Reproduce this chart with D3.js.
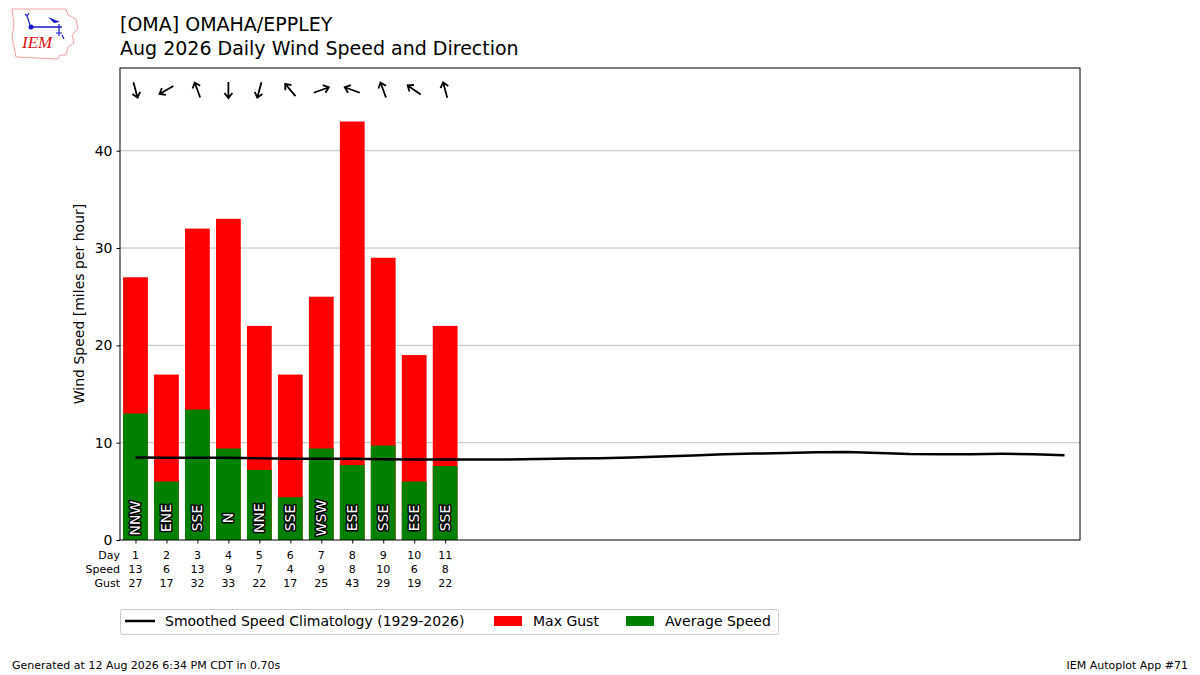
<!DOCTYPE html>
<html>
<head>
<meta charset="utf-8">
<script src="https://cdn.jsdelivr.net/npm/d3@7"></script>
<style>
  body { margin: 0; background: #fff; }
  svg { font-family: "DejaVu Sans", sans-serif; }
</style>
</head>
<body>
<svg id="chart" width="1200" height="675"></svg>
<script>
const days = [1, 2, 3, 4, 5, 6, 7, 8, 9, 10, 11];
const avgSpeed = [13.0, 6.0, 13.4, 9.4, 7.2, 4.4, 9.4, 7.7, 9.7, 6.0, 7.6];
const maxGust = [27, 17, 32, 33, 22, 17, 25, 43, 29, 19, 22];
const dirLabels = ['NNW', 'ENE', 'SSE', 'N', 'NNE', 'SSE', 'WSW', 'ESE', 'SSE', 'ESE', 'SSE'];
const dirDegrees = [345, 60, 160, 0, 15, 140, 250, 110, 160, 125, 165];

const climoDays = d3.range(1, 32);
const climoSpeed = [8.47, 8.45, 8.45, 8.45, 8.4, 8.36, 8.35, 8.34, 8.3, 8.27, 8.26,
  8.27, 8.28, 8.33, 8.38, 8.4, 8.47, 8.57, 8.67, 8.8, 8.88, 8.95, 9.02, 9.03,
  8.95, 8.84, 8.82, 8.82, 8.85, 8.82, 8.72];

const yTicks = [0, 10, 20, 30, 40];

const svg = d3.select('#chart');
const margin = { left: 120, right: 1080, top: 68, bottom: 540 };

const x = d3.scaleLinear().domain([0.5, 31.5]).range([margin.left, margin.right]);
const y = d3.scaleLinear().domain([0, 48.5]).range([margin.bottom, margin.top]);
const barW = x(0.8) - x(0);

// logo
const logo = svg.append('g').attr('transform', 'translate(10,7)');
logo.append('path')
  .attr('d', 'M2,2 L56,2 L58,8 L66,12 L68,22 L62,28 L64,36 L58,40 L56,48 L50,48 L48,52 L6,50 L4,40 L2,30 L4,18 Z')
  .attr('fill', 'none').attr('stroke', '#f0a0a0').attr('stroke-width', 1);
logo.append('line').attr('x1', 21).attr('y1', 20).attr('x2', 52).attr('y2', 20)
  .attr('stroke', '#1a1acc').attr('stroke-width', 1.5);
logo.append('circle').attr('cx', 21).attr('cy', 20).attr('r', 2.5).attr('fill', '#1a1acc');
logo.append('path').attr('d', 'M20,18 L17,9 M17,9 L15,7 M17,9 L19,6')
  .attr('stroke', '#1a1acc').attr('fill', 'none').attr('stroke-width', 1.2);
logo.append('path').attr('d', 'M38,10 L50,15 L44,16 Z').attr('fill', '#1a1acc');
logo.append('path').attr('d', 'M49,17 L49,29 M46,26 L52,26 M52,28 L54,32')
  .attr('stroke', '#1a1acc').attr('fill', 'none').attr('stroke-width', 1.2);
logo.append('text').attr('x', 12).attr('y', 41)
  .attr('font-family', '"Liberation Serif", serif').attr('font-style', 'italic')
  .attr('font-size', 17).attr('fill', '#d11').text('IEM');

// titles
svg.append('text').attr('x', 120).attr('y', 31).attr('font-size', 19)
  .text('[OMA] OMAHA/EPPLEY');
svg.append('text').attr('x', 120).attr('y', 55).attr('font-size', 19)
  .text('Aug 2026 Daily Wind Speed and Direction');

// grid
svg.append('g').selectAll('line').data(yTicks.filter(d => d > 0)).join('line')
  .attr('x1', margin.left).attr('x2', margin.right)
  .attr('y1', d => y(d)).attr('y2', d => y(d))
  .attr('stroke', '#b0b0b0').attr('stroke-width', 0.8);

// bars
svg.append('g').selectAll('rect').data(days).join('rect')
  .attr('x', (d, i) => x(d) - barW / 2).attr('width', barW)
  .attr('y', (d, i) => y(maxGust[i])).attr('height', (d, i) => y(0) - y(maxGust[i]))
  .attr('fill', '#ff0000');
svg.append('g').selectAll('rect').data(days).join('rect')
  .attr('x', (d, i) => x(d) - barW / 2).attr('width', barW)
  .attr('y', (d, i) => y(avgSpeed[i])).attr('height', (d, i) => y(0) - y(avgSpeed[i]))
  .attr('fill', '#008000');

// direction labels inside bars
svg.append('g').selectAll('text').data(days).join('text')
  .attr('transform', d => `translate(${x(d) + 5},518) rotate(-90)`)
  .attr('text-anchor', 'middle').attr('font-size', 14)
  .attr('fill', '#fff').attr('stroke', '#000').attr('stroke-width', 3)
  .attr('paint-order', 'stroke').attr('stroke-linejoin', 'round')
  .text((d, i) => dirLabels[i]);

// climatology line
const line = d3.line().x(d => x(d)).y((d, i) => y(climoSpeed[i]));
svg.append('path').datum(climoDays).attr('d', line)
  .attr('fill', 'none').attr('stroke', '#000').attr('stroke-width', 2.5);

// arrows (pointing where the wind blows to)
const arrows = svg.append('g').selectAll('g').data(days).join('g')
  .attr('transform', (d, i) => `translate(${x(d)},90) rotate(${dirDegrees[i] + 180})`);
arrows.append('path')
  .attr('d', 'M0,8 L0,-8 M-4,-3 L0,-8 L4,-3')
  .attr('fill', 'none').attr('stroke', '#000').attr('stroke-width', 1.8);

// axes frame
svg.append('rect').attr('x', margin.left).attr('y', margin.top)
  .attr('width', margin.right - margin.left).attr('height', margin.bottom - margin.top)
  .attr('fill', 'none').attr('stroke', '#000').attr('stroke-width', 1);

const yAxis = svg.append('g').attr('transform', `translate(${margin.left},0)`)
  .call(d3.axisLeft(y).tickValues(yTicks).tickSize(3.5).tickPadding(4));
yAxis.select('.domain').remove();
yAxis.selectAll('text').attr('font-size', 14).attr('font-family', '"DejaVu Sans", sans-serif').attr('fill', '#000');
yAxis.selectAll('line').attr('stroke', '#000');

const xAxis = svg.append('g').attr('transform', `translate(0,${margin.bottom})`)
  .call(d3.axisBottom(x).tickValues(days).tickSize(3.5).tickFormat(''));
xAxis.select('.domain').remove();
xAxis.selectAll('line').attr('stroke', '#000');

svg.append('text')
  .attr('transform', `translate(84,${(margin.top + margin.bottom) / 2}) rotate(-90)`)
  .attr('text-anchor', 'middle').attr('font-size', 14)
  .text('Wind Speed [miles per hour]');

// table below axis
const rows = [
  { name: 'Day', vals: days.map(String), yy: 559 },
  { name: 'Speed', vals: avgSpeed.map(v => String(Math.round(v))), yy: 573 },
  { name: 'Gust', vals: maxGust.map(String), yy: 587 }
];
rows.forEach(r => {
  svg.append('text').attr('x', 120).attr('y', r.yy).attr('text-anchor', 'end')
    .attr('font-size', 11).text(r.name);
  svg.append('g').selectAll('text').data(days).join('text')
    .attr('x', d => x(d)).attr('y', r.yy).attr('text-anchor', 'middle')
    .attr('font-size', 11).text((d, i) => r.vals[i]);
});

// legend
const lg = svg.append('g');
lg.append('rect').attr('x', 120.5).attr('y', 609.5).attr('width', 658).attr('height', 25)
  .attr('rx', 2).attr('fill', '#fff').attr('stroke', '#ccc');
lg.append('line').attr('x1', 125).attr('x2', 155).attr('y1', 621).attr('y2', 621)
  .attr('stroke', '#000').attr('stroke-width', 2.5);
lg.append('text').attr('x', 165).attr('y', 626).attr('font-size', 14)
  .text('Smoothed Speed Climatology (1929-2026)');
lg.append('rect').attr('x', 494).attr('y', 616).attr('width', 28).attr('height', 10).attr('fill', '#ff0000');
lg.append('text').attr('x', 533).attr('y', 626).attr('font-size', 14).text('Max Gust');
lg.append('rect').attr('x', 626).attr('y', 616).attr('width', 28).attr('height', 10).attr('fill', '#008000');
lg.append('text').attr('x', 665).attr('y', 626).attr('font-size', 14).text('Average Speed');

// footer
svg.append('text').attr('x', 12).attr('y', 669).attr('font-size', 11)
  .text('Generated at 12 Aug 2026 6:34 PM CDT in 0.70s');
svg.append('text').attr('x', 1188).attr('y', 669).attr('font-size', 11)
  .attr('text-anchor', 'end').text('IEM Autoplot App #71');
</script>
</body>
</html>
